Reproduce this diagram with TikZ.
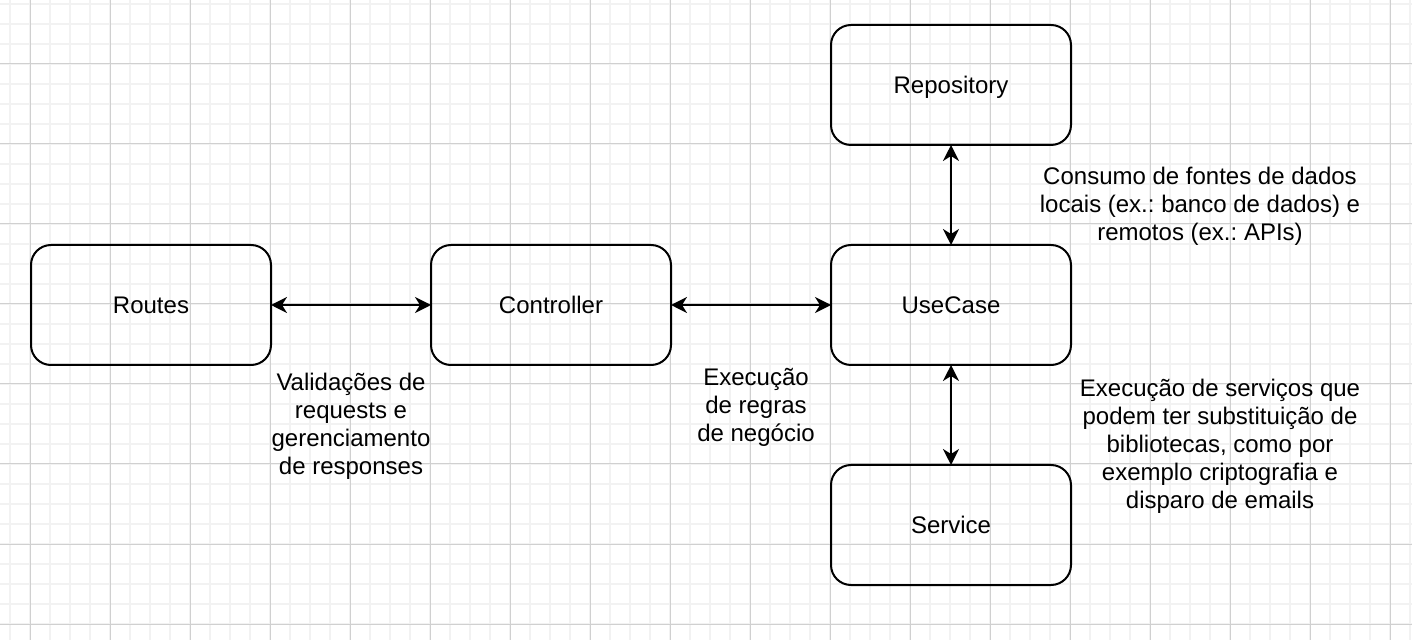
\documentclass[tikz,border=0pt]{standalone}
\usepackage{fontspec}
\setmainfont{Liberation Sans}
\frenchspacing
\usetikzlibrary{positioning, arrows.meta}
\definecolor{gridminor}{HTML}{F2F2F2}
\definecolor{gridmajor}{HTML}{D0D0D0}
\begin{document}
\begin{tikzpicture}[x=0.5pt, y=-0.5pt,
    block/.style={draw, line width=1pt, rounded corners=10pt, minimum width=120pt,
        minimum height=60pt, outer sep=0pt, text height=8.6pt, text depth=0pt,
        font=\fontsize{12}{14}\selectfont},
    note/.style={align=center, font=\fontsize{12}{14}\selectfont},
    conn/.style={line width=1pt, {Stealth[length=8pt, width=8pt, inset=2.5pt]}-{Stealth[length=8pt, width=8pt, inset=2.5pt]}}]
    \useasboundingbox (0,0) rectangle (1412,640);
    \foreach \x in {10,30,...,1410} \draw[gridminor, line width=0.7pt] (\x,0) -- (\x,640);
    \foreach \y in {4,24,...,624} \draw[gridminor, line width=0.7pt] (0,\y) -- (1412,\y);
    \foreach \x in {30,110,...,1390} \draw[gridmajor, line width=0.5pt] (\x,0) -- (\x,640);
    \foreach \y in {64,144,...,624} \draw[gridmajor, line width=0.5pt] (0,\y) -- (1412,\y);

    \node[block] (routes) at (151,305) {Routes};
    \node[block, right=80pt of routes] (controller) {Controller};
    \node[block, right=80pt of controller] (usecase) {UseCase};
    \node[block, above=50pt of usecase] (repository) {Repository};
    \node[block, below=50pt of usecase] (service) {Service};

    \draw[conn] (routes.east) -- (controller.west);
    \draw[conn] (controller.east) -- (usecase.west);
    \draw[conn] (usecase.north) -- (repository.south);
    \draw[conn] (usecase.south) -- (service.north);

    \node[note] (valid) at (351,426) {Validações de\\requests e\\gerenciamento\\de responses};
    \node[note] (regras) at (756,407) {Execução\\de regras\\de negócio};
    \node[note] (consumo) at (1200,206) {Consumo de fontes de dados\\locais (ex.: banco de dados) e\\remotos (ex.: APIs)};
    \node[note] (servicos) at (1220,446) {Execução de serviços que\\podem ter substituição de\\bibliotecas, como por\\exemplo criptografia e\\disparo de emails};
\end{tikzpicture}
\end{document}
